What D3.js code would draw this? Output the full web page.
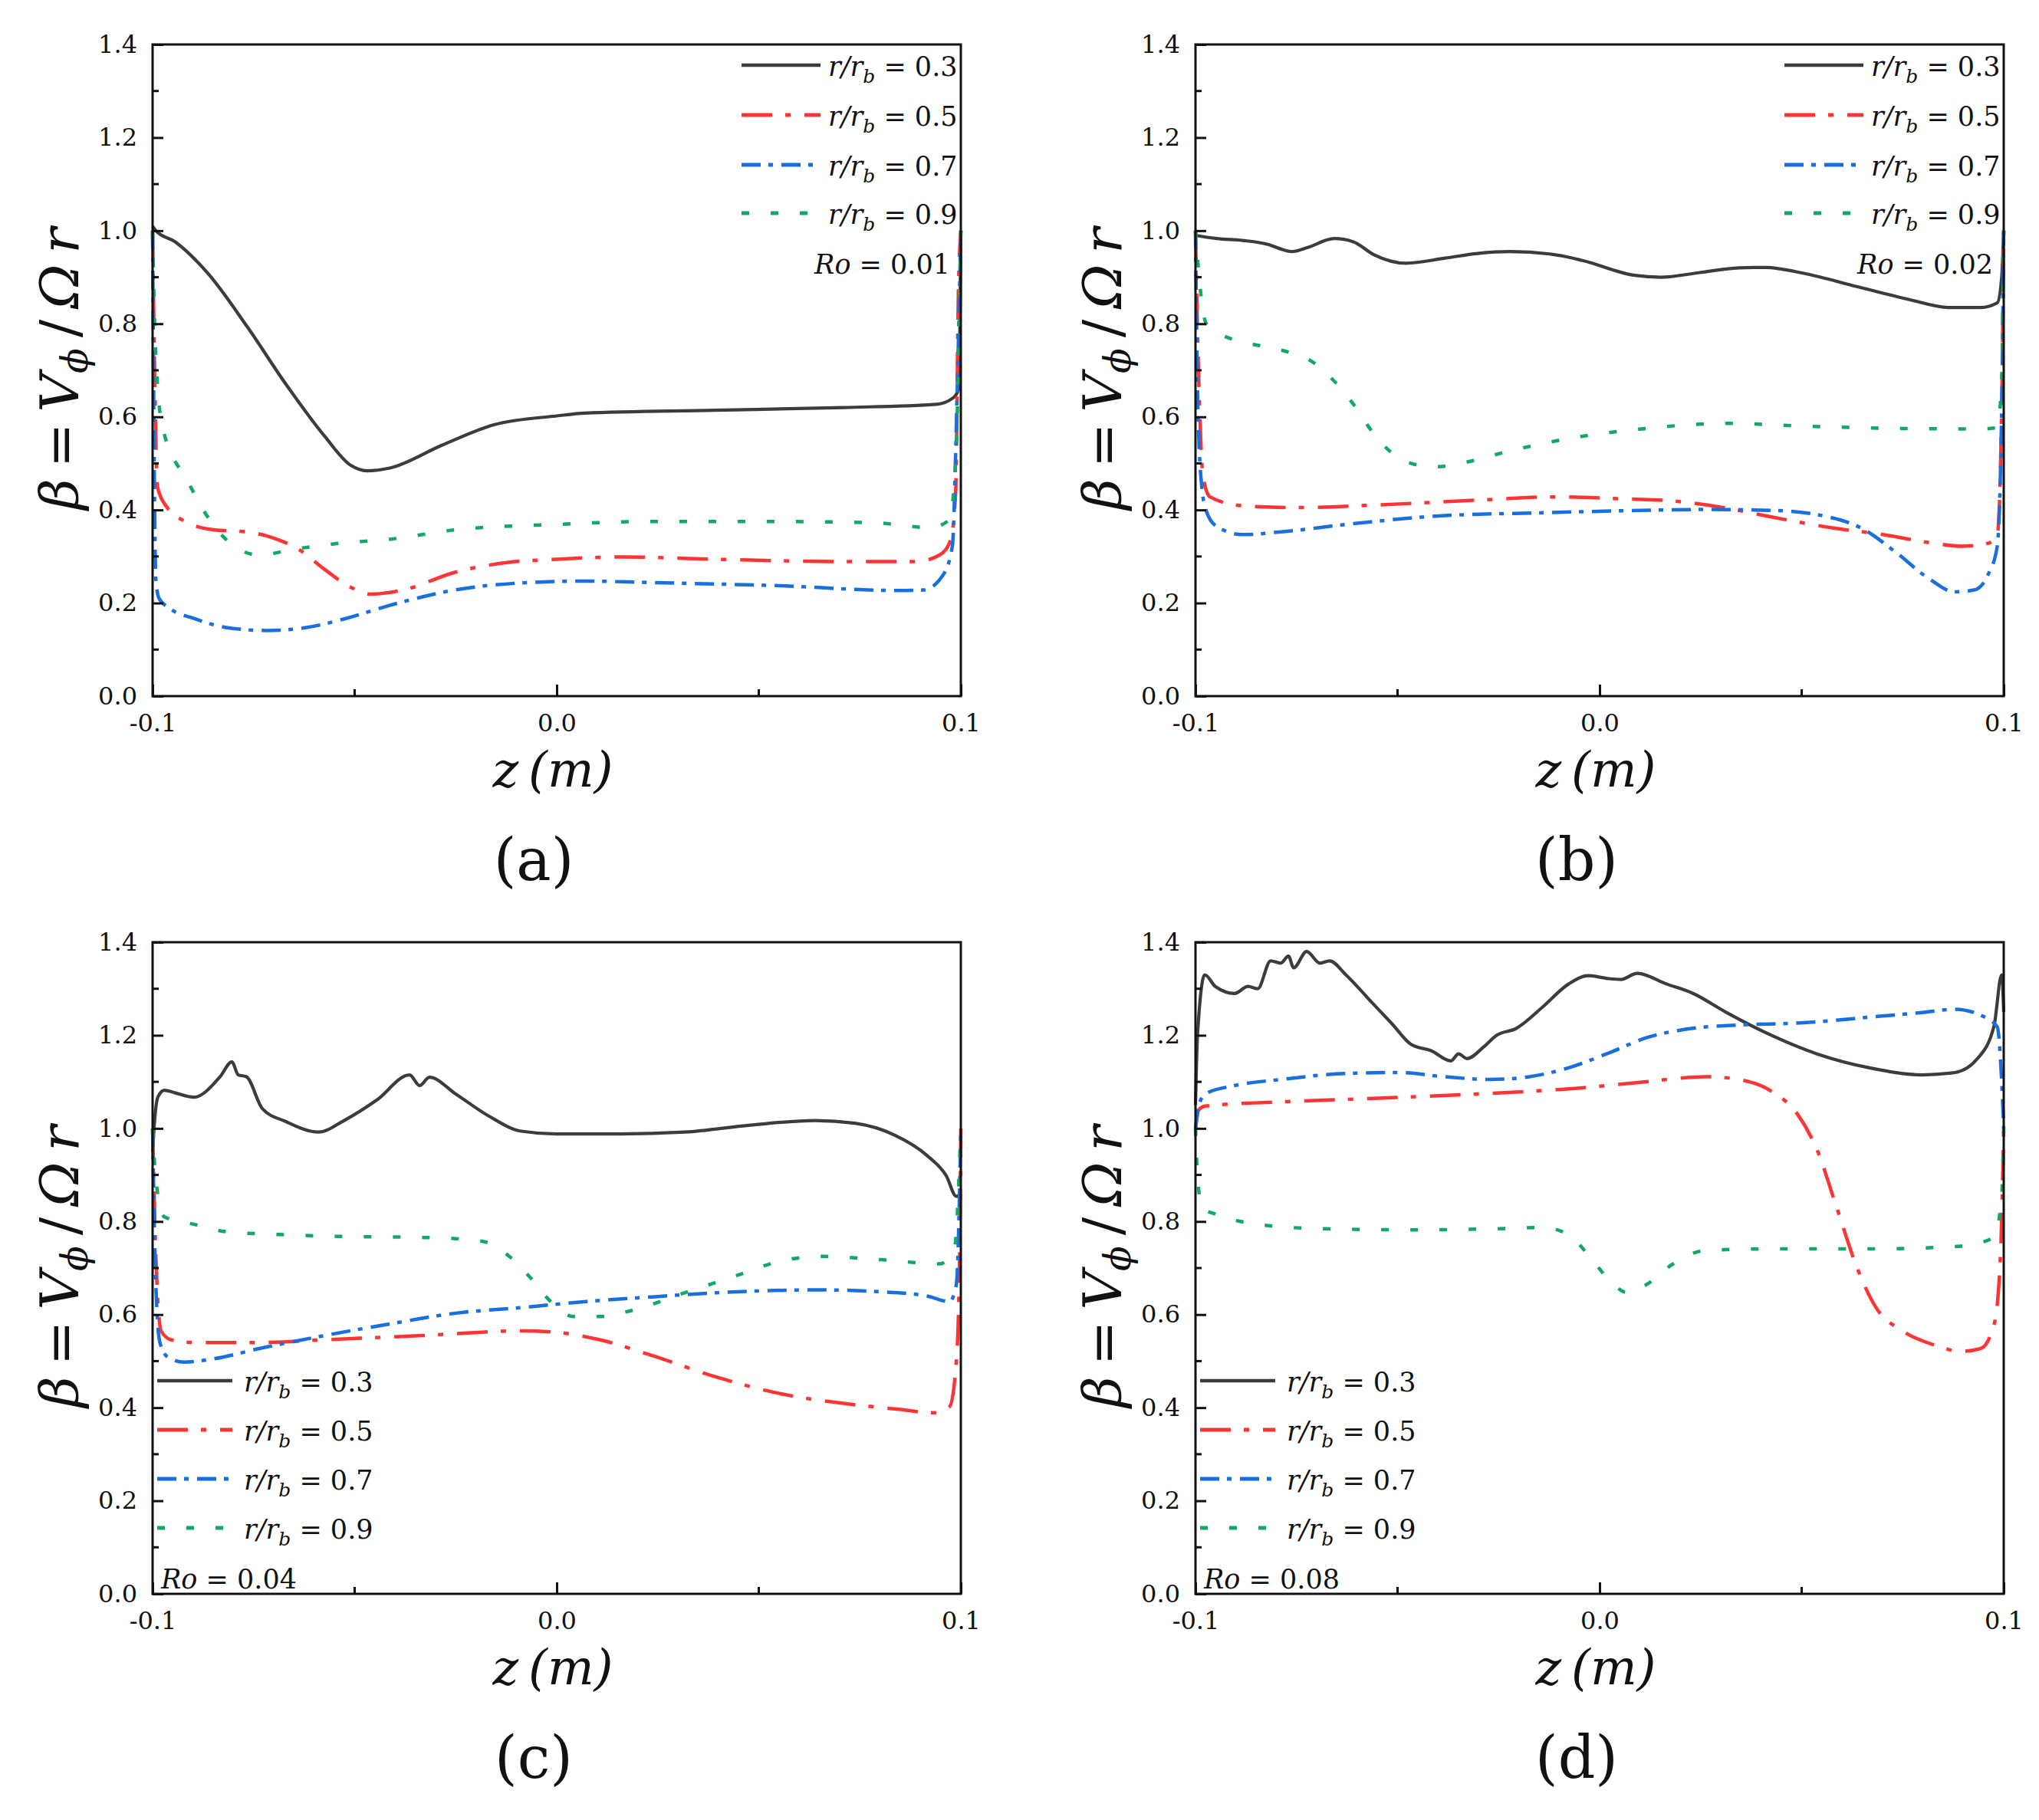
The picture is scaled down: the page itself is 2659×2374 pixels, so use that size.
<!DOCTYPE html>
<html><head><meta charset="utf-8">
<script src="https://cdn.jsdelivr.net/npm/d3@7/dist/d3.min.js"></script>
<style>
body{margin:0;background:#fff}
svg{display:block}
</style></head>
<body><svg id="chart" width="2659" height="2374"></svg>
<script>
// ---------- data ----------
const seriesNames = ["0.3", "0.5", "0.7", "0.9"];
const panelLabels = ["(a)", "(b)", "(c)", "(d)"];
const roValues = ["0.01", "0.02", "0.04", "0.08"];
const xTickValues = [-0.1, 0.0, 0.1];
const xTickLabels = ["-0.1", "0.0", "0.1"];
const xMinorTicks = [-0.05, 0.05];
const yTickValues = [0, 0.2, 0.4, 0.6, 0.8, 1.0, 1.2, 1.4];
const yTickLabels = ["0.0", "0.2", "0.4", "0.6", "0.8", "1.0", "1.2", "1.4"];
const yMinorTicks = [0.1, 0.3, 0.5, 0.7, 0.9, 1.1, 1.3];

// Panel (a) Ro = 0.01
const a03 = [[-0.1,1.01],[-0.0992,1.0],[-0.0944,0.976],[-0.0863,0.908],[-0.0767,0.795],[-0.067,0.67],[-0.0574,0.558],[-0.051,0.496],[-0.0469,0.484],[-0.0413,0.49],[-0.0284,0.539],[-0.0155,0.583],[0,0.602],[0.007,0.608],[0.039,0.614],[0.071,0.62],[0.094,0.627],[0.098,0.64],[0.0995,0.66],[0.1,1.0]];
const a05 = [[-0.1,1.0],[-0.0995,0.7],[-0.0988,0.45],[-0.0968,0.41],[-0.0911,0.372],[-0.0847,0.357],[-0.0767,0.353],[-0.0702,0.34],[-0.0638,0.315],[-0.0574,0.272],[-0.051,0.234],[-0.0461,0.219],[-0.038,0.228],[-0.0252,0.266],[-0.0123,0.287],[0,0.294],[0.0167,0.299],[0.039,0.294],[0.0714,0.289],[0.089,0.289],[0.0947,0.303],[0.0974,0.334],[0.0987,0.434],[0.0994,0.87],[0.1,1.0]];
const a07 = [[-0.1,1.0],[-0.0996,0.5],[-0.0992,0.25],[-0.0984,0.21],[-0.096,0.19],[-0.0895,0.166],[-0.0815,0.147],[-0.0718,0.141],[-0.0622,0.147],[-0.0525,0.166],[-0.0413,0.195],[-0.0252,0.228],[-0.0091,0.243],[0.007,0.247],[0.0231,0.244],[0.0553,0.237],[0.0842,0.227],[0.0907,0.228],[0.0955,0.259],[0.0979,0.322],[0.099,0.62],[0.1,1.0]];
const a09 = [[-0.1,1.0],[-0.0993,0.75],[-0.0976,0.58],[-0.0912,0.46],[-0.0863,0.384],[-0.0815,0.334],[-0.0735,0.303],[-0.0654,0.315],[-0.0541,0.328],[-0.0413,0.337],[-0.0252,0.357],[0,0.369],[0.0231,0.375],[0.0553,0.375],[0.0794,0.372],[0.0923,0.362],[0.0971,0.378],[0.0987,0.5],[0.1,1.0]];

// Panel (b) Ro = 0.02
const b03 = [[-0.1,0.99],[-0.0994,0.989],[-0.0948,0.983],[-0.0884,0.979],[-0.0819,0.97],[-0.0787,0.96],[-0.0762,0.955],[-0.0722,0.964],[-0.0657,0.983],[-0.0609,0.976],[-0.056,0.949],[-0.0479,0.93],[-0.0382,0.941],[-0.0302,0.951],[-0.0221,0.955],[-0.0124,0.95],[-0.0043,0.936],[0.0087,0.904],[0.0151,0.9],[0.0248,0.91],[0.0345,0.92],[0.041,0.921],[0.0507,0.908],[0.0636,0.88],[0.0766,0.852],[0.0863,0.835],[0.0943,0.835],[0.0984,0.845],[0.0995,0.9],[0.1,1.0]];
const b05 = [[-0.1,1.0],[-0.0994,0.75],[-0.0981,0.47],[-0.0964,0.428],[-0.0884,0.409],[-0.0754,0.405],[-0.0544,0.411],[-0.0302,0.421],[-0.0108,0.428],[0.0054,0.424],[0.0184,0.419],[0.0313,0.404],[0.0442,0.382],[0.0572,0.362],[0.0701,0.347],[0.083,0.328],[0.0895,0.322],[0.096,0.328],[0.0984,0.347],[0.0995,0.62],[0.1,1.0]];
const b07 = [[-0.1,1.0],[-0.0994,0.62],[-0.0984,0.446],[-0.0973,0.397],[-0.0948,0.365],[-0.0884,0.347],[-0.0787,0.353],[-0.0625,0.369],[-0.0399,0.387],[-0.014,0.394],[0.0103,0.399],[0.0264,0.401],[0.0426,0.399],[0.0555,0.387],[0.0652,0.359],[0.0733,0.309],[0.0814,0.253],[0.0879,0.224],[0.0927,0.228],[0.096,0.259],[0.0984,0.322],[0.0995,0.62],[0.1,1.0]];
const b09 = [[-0.1,1.0],[-0.0994,0.93],[-0.0973,0.8],[-0.09,0.764],[-0.0835,0.752],[-0.077,0.739],[-0.0714,0.72],[-0.0657,0.677],[-0.0609,0.627],[-0.056,0.565],[-0.0512,0.521],[-0.0447,0.496],[-0.0399,0.493],[-0.0334,0.502],[-0.0221,0.527],[-0.0059,0.556],[0.0103,0.574],[0.0313,0.586],[0.0507,0.58],[0.0749,0.575],[0.0943,0.574],[0.0984,0.577],[0.0995,0.68],[0.1,1.0]];

// Panel (c) Ro = 0.04
const c03 = [[-0.1,0.95],[-0.0995,1.017],[-0.0987,1.067],[-0.0971,1.082],[-0.0947,1.077],[-0.0898,1.067],[-0.0833,1.111],[-0.0804,1.143],[-0.0788,1.115],[-0.0768,1.111],[-0.0728,1.042],[-0.0671,1.015],[-0.059,0.992],[-0.0526,1.017],[-0.0445,1.061],[-0.0364,1.115],[-0.0339,1.092],[-0.0315,1.11],[-0.025,1.074],[-0.0169,1.027],[-0.0088,0.994],[0,0.988],[0.0155,0.988],[0.0317,0.992],[0.0479,1.007],[0.064,1.017],[0.0738,1.011],[0.0835,0.986],[0.0916,0.942],[0.0964,0.898],[0.0989,0.854],[0.1,0.86]];
const c05 = [[-0.1,1.0],[-0.0992,0.728],[-0.0979,0.565],[-0.0955,0.546],[-0.0898,0.54],[-0.0736,0.54],[-0.0574,0.546],[-0.0331,0.555],[-0.0088,0.565],[0.0009,0.561],[0.0106,0.546],[0.0236,0.512],[0.0398,0.465],[0.0559,0.429],[0.0721,0.408],[0.0851,0.396],[0.0932,0.389],[0.0972,0.402],[0.0989,0.502],[0.0997,0.728],[0.1,1.0]];
const c07 = [[-0.1,1.0],[-0.0992,0.665],[-0.0982,0.54],[-0.0963,0.509],[-0.0922,0.498],[-0.0849,0.505],[-0.0736,0.527],[-0.0574,0.555],[-0.0412,0.58],[-0.025,0.603],[-0.0088,0.615],[0.0074,0.628],[0.0236,0.638],[0.0398,0.647],[0.064,0.653],[0.0802,0.649],[0.0916,0.64],[0.0972,0.628],[0.0989,0.665],[0.1,1.0]];
const c09 = [[-0.1,1.0],[-0.0992,0.89],[-0.0971,0.81],[-0.0898,0.794],[-0.0817,0.778],[-0.0687,0.772],[-0.0542,0.768],[-0.0347,0.766],[-0.025,0.763],[-0.0177,0.756],[-0.0113,0.722],[-0.0064,0.678],[-0.0015,0.628],[0.0041,0.596],[0.0106,0.596],[0.0187,0.609],[0.0317,0.647],[0.0446,0.684],[0.0559,0.716],[0.0657,0.725],[0.0802,0.718],[0.0948,0.709],[0.0984,0.741],[0.1,1.0]];

// Panel (d) Ro = 0.08
const d03 = [[-0.1,1.05],[-0.0995,1.2],[-0.0977,1.33],[-0.0951,1.305],[-0.0903,1.29],[-0.087,1.305],[-0.0846,1.3],[-0.0814,1.36],[-0.0789,1.355],[-0.077,1.37],[-0.0757,1.345],[-0.0725,1.38],[-0.0692,1.355],[-0.0668,1.36],[-0.0628,1.33],[-0.0563,1.27],[-0.0514,1.225],[-0.0466,1.18],[-0.0417,1.167],[-0.0368,1.145],[-0.0349,1.16],[-0.0328,1.15],[-0.0287,1.175],[-0.0255,1.2],[-0.0206,1.215],[-0.0142,1.26],[-0.0077,1.31],[-0.0028,1.328],[0.002,1.322],[0.0053,1.32],[0.0093,1.333],[0.0166,1.31],[0.0231,1.29],[0.0312,1.25],[0.0425,1.2],[0.0538,1.16],[0.0668,1.13],[0.0798,1.115],[0.0879,1.12],[0.0935,1.15],[0.0976,1.22],[0.0995,1.33],[0.1,1.25]];
const d05 = [[-0.1,1.0],[-0.0992,1.04],[-0.0976,1.048],[-0.0789,1.057],[-0.0547,1.065],[-0.0304,1.074],[-0.0061,1.086],[0.0101,1.099],[0.0263,1.111],[0.0344,1.105],[0.0425,1.08],[0.049,1.03],[0.0538,0.954],[0.0587,0.829],[0.0636,0.703],[0.0684,0.615],[0.0749,0.565],[0.083,0.534],[0.0895,0.521],[0.0943,0.527],[0.0976,0.578],[0.0992,0.728],[0.1,1.0]];
const d07 = [[-0.1,1.0],[-0.0992,1.048],[-0.0976,1.074],[-0.0903,1.092],[-0.0789,1.105],[-0.0628,1.118],[-0.0498,1.12],[-0.0385,1.111],[-0.0271,1.105],[-0.0174,1.111],[-0.0077,1.13],[0.002,1.161],[0.0117,1.195],[0.0231,1.215],[0.0344,1.222],[0.0506,1.227],[0.0668,1.239],[0.0798,1.249],[0.0879,1.256],[0.0943,1.243],[0.0984,1.218],[0.0995,1.1],[0.1,1.0]];
const d09 = [[-0.1,1.0],[-0.0997,0.929],[-0.0984,0.829],[-0.0951,0.816],[-0.087,0.797],[-0.0708,0.785],[-0.0466,0.782],[-0.0223,0.785],[-0.0142,0.787],[-0.0077,0.772],[-0.0028,0.728],[0.002,0.678],[0.0069,0.647],[0.0117,0.665],[0.0182,0.709],[0.0263,0.738],[0.0425,0.741],[0.0668,0.741],[0.0895,0.747],[0.0976,0.766],[0.0995,0.854],[0.1,1.0]];

const panelSeries = [[a03,a05,a07,a09],[b03,b05,b07,b09],[c03,c05,c07,c09],[d03,d05,d07,d09]];

// ---------- styles / layout ----------
const FONT = "'DejaVu Serif', serif";
const colors = ["#3c3c3c", "#ff3535", "#1a6fe0", "#13a866"];
const dashes = [null, "40,17,7,18", "25,10,6,11", "10,28"];
const widths = [4.2, 4.5, 4.5, 4.5];
const panels = [
  {x: 199, y: 58, legend: "tr"},
  {x: 1559, y: 58, legend: "tr"},
  {x: 199, y: 1229, legend: "bl"},
  {x: 1559, y: 1229, legend: "bl"}
];
const W = 1054, H = 850;
const TH = "\u2009"; // thin space

const svg = d3.select("#chart");
svg.append("rect").attr("width", 2659).attr("height", 2374).attr("fill", "#fff");

function txt(sel) { return sel.style("font-family", FONT).attr("fill", "#111").style("white-space", "pre"); }

panels.forEach((p, pi) => {
  const g = svg.append("g").attr("transform", `translate(${p.x},${p.y})`);
  const x = d3.scaleLinear().domain([-0.1, 0.1]).range([0, W]);
  const y = d3.scaleLinear().domain([0, 1.4]).range([H, 0]);

  const line = d3.line().x(d => x(d[0])).y(d => y(d[1])).curve(d3.curveMonotoneX);
  const clipId = "clip" + pi;
  g.append("clipPath").attr("id", clipId).append("rect").attr("x", -3).attr("y", 0).attr("width", W + 6).attr("height", H);
  const lg = g.append("g").attr("clip-path", `url(#${clipId})`);
  panelSeries[pi].forEach((s, si) => {
    lg.append("path").datum(s).attr("d", line)
      .attr("fill", "none").attr("stroke", colors[si]).attr("stroke-width", widths[si])
      .attr("stroke-dasharray", dashes[si]).attr("stroke-linejoin", "round");
  });

  const yAxis = d3.axisLeft(y).tickValues(yTickValues).tickSize(-14).tickPadding(20)
    .tickFormat((d, i) => yTickLabels[i]);
  const gy = g.append("g").call(yAxis);
  const xAxis = d3.axisBottom(x).tickValues(xTickValues).tickSize(-15).tickPadding(23)
    .tickFormat((d, i) => xTickLabels[i]);
  const gx = g.append("g").attr("transform", `translate(0,${H})`).call(xAxis);
  [gx, gy].forEach(a => {
    a.attr("font-size", 32);
    a.select(".domain").remove();
    a.selectAll("line").attr("stroke", "#111").attr("stroke-width", 3);
    txt(a.selectAll("text"));
  });
  g.append("g").selectAll("line").data(yMinorTicks).join("line")
    .attr("x1", 0).attr("x2", 8).attr("y1", d => y(d)).attr("y2", d => y(d))
    .attr("stroke", "#111").attr("stroke-width", 3);
  g.append("g").selectAll("line").data(xMinorTicks).join("line")
    .attr("x1", d => x(d)).attr("x2", d => x(d)).attr("y1", H).attr("y2", H - 9)
    .attr("stroke", "#111").attr("stroke-width", 3);
  g.append("rect").attr("width", W).attr("height", H).attr("fill", "none")
    .attr("stroke", "#111").attr("stroke-width", 3);

  let lx1, lx2, tx, rowY, roX, roY, roAnchor;
  if (p.legend === "tr") {
    lx1 = W - 286; lx2 = W - 183; tx = W - 173;
    rowY = [27, 92, 157, 220];
    roX = W - 14; roY = 299; roAnchor = "end";
  } else {
    lx1 = 6; lx2 = 104; tx = 119;
    rowY = [572, 636, 700, 764];
    roX = 11; roY = 843; roAnchor = "start";
  }
  seriesNames.forEach((nm, si) => {
    g.append("line").attr("x1", lx1).attr("x2", lx2).attr("y1", rowY[si]).attr("y2", rowY[si])
      .attr("stroke", colors[si]).attr("stroke-width", widths[si] + 0.5).attr("stroke-dasharray", dashes[si]);
    const t = txt(g.append("text")).attr("x", tx).attr("y", rowY[si] + 14).attr("font-size", 35);
    t.append("tspan").attr("font-style", "italic").text("r/r");
    t.append("tspan").attr("font-style", "italic").attr("font-size", 25).attr("dy", 9).text("b");
    t.append("tspan").attr("dy", -9).text(" = " + nm);
  });
  const ro = txt(g.append("text")).attr("x", roX).attr("y", roY).attr("font-size", 35).attr("text-anchor", roAnchor);
  ro.append("tspan").attr("font-style", "italic").text("Ro");
  ro.append("tspan").text(" = " + roValues[pi]);

  const yl = txt(g.append("text")).attr("transform", `translate(-97,${H / 2 - 2}) rotate(-90)`)
    .attr("text-anchor", "middle").attr("font-size", 70);
  yl.append("tspan").attr("font-style", "italic").text("β");
  yl.append("tspan").text(TH + "=" + TH);
  yl.append("tspan").attr("font-style", "italic").text("V");
  yl.append("tspan").attr("font-style", "italic").attr("font-size", 48).attr("dy", 12).text("ϕ");
  yl.append("tspan").attr("dy", -12).text(TH + "/" + TH);
  yl.append("tspan").attr("font-style", "italic").text("Ω" + TH + "r");

  txt(g.append("text")).attr("x", W / 2 - 5).attr("y", 968).attr("text-anchor", "middle")
    .attr("font-size", 64).attr("font-style", "italic").text("z" + TH + "(m)");
  txt(g.append("text")).attr("x", W / 2 - 30).attr("y", 1090).attr("text-anchor", "middle")
    .attr("font-size", 76).text(panelLabels[pi]);
});
</script></body></html>
